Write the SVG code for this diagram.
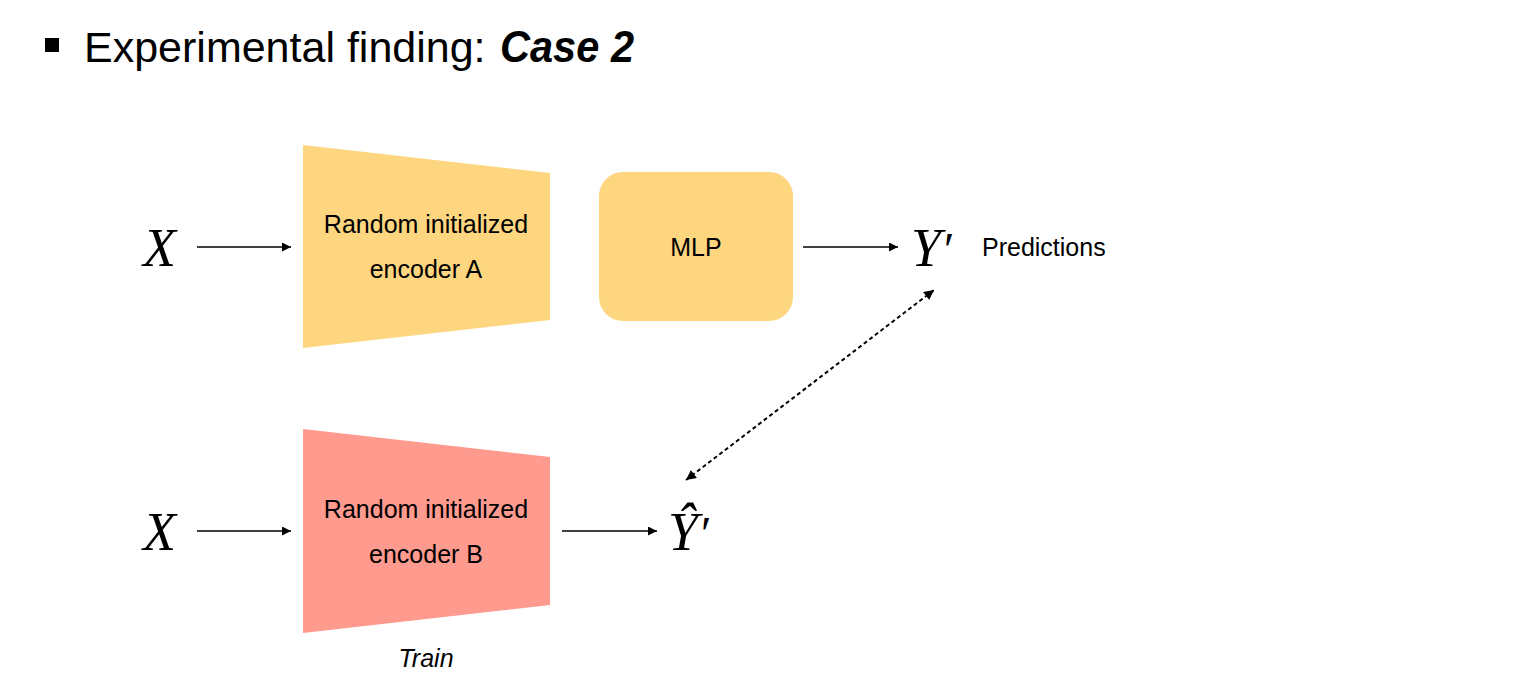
<svg xmlns="http://www.w3.org/2000/svg" width="1520" height="694" viewBox="0 0 1520 694">
<style>
.sans{font-family:"Liberation Sans",Arial,sans-serif;fill:#000}
.lbl{font-size:25px;text-anchor:middle}
.math{font-family:"Liberation Serif","Times New Roman",serif;font-style:italic;font-size:54px;fill:#000}
.arr{stroke:#000;stroke-width:1.5;fill:none}
.dot{stroke:#000;stroke-width:2;stroke-dasharray:4 3;fill:none}
</style>
<defs>
<marker id="ah" viewBox="0 0 10 10" refX="10" refY="5" markerWidth="10" markerHeight="9" markerUnits="userSpaceOnUse" orient="auto">
<path d="M0,0 L10,5 L0,10 z" fill="#000"/>
</marker>
<marker id="ahs" viewBox="0 0 10 10" refX="10" refY="5" markerWidth="10" markerHeight="10" markerUnits="userSpaceOnUse" orient="auto-start-reverse">
<path d="M0,0 L10,5 L0,10 z" fill="#000"/>
</marker>
</defs>
<rect width="1520" height="694" fill="#fff"/>
<g id="title">
<rect x="45" y="38" width="14" height="14" fill="#000"/>
<text class="sans" x="84" y="62" font-size="43">Experimental finding:</text>
<text class="sans" x="500" y="62" font-size="43.5" font-weight="bold" font-style="italic" textLength="134" lengthAdjust="spacingAndGlyphs">Case 2</text>
</g>
<g id="x-top"><text class="math" x="143" y="266">X</text></g>
<g id="encoder-a">
<polygon points="303,145 550,173 550,320 303,348" fill="#FDD67F"/>
<text class="sans lbl" x="426" y="233">Random initialized</text>
<text class="sans lbl" x="426" y="278">encoder A</text>
</g>
<g id="mlp">
<rect x="599" y="172" width="194" height="149" rx="24" fill="#FDD67F"/>
<text class="sans lbl" x="696" y="256">MLP</text>
</g>
<g id="y-prime"><text class="math" x="911" y="266">Y<tspan font-size="48">′</tspan></text></g>
<g id="predictions"><text class="sans" x="982" y="256" font-size="25">Predictions</text></g>
<g id="x-bottom"><text class="math" x="143" y="550">X</text></g>
<g id="encoder-b">
<polygon points="303,429 550,457 550,605 303,633" fill="#FF9A8F"/>
<text class="sans lbl" x="426" y="518">Random initialized</text>
<text class="sans lbl" x="426" y="563">encoder B</text>
<text class="sans" x="426" y="667" font-size="25" font-style="italic" text-anchor="middle">Train</text>
</g>
<g id="y-hat-prime"><text class="math" x="668" y="550">Ŷ<tspan font-size="48">′</tspan></text></g>
<g id="connectors">
<line class="arr" x1="197" y1="247" x2="291" y2="247" marker-end="url(#ah)"/>
<line class="arr" x1="803" y1="247" x2="898" y2="247" marker-end="url(#ah)"/>
<line class="arr" x1="197" y1="531" x2="291" y2="531" marker-end="url(#ah)"/>
<line class="arr" x1="562" y1="531" x2="657" y2="531" marker-end="url(#ah)"/>
<line class="dot" x1="686" y1="480" x2="934" y2="290" marker-start="url(#ahs)" marker-end="url(#ahs)"/>
</g>
</svg>
